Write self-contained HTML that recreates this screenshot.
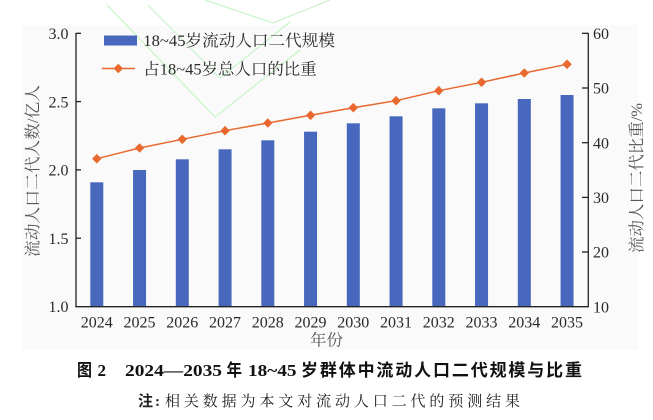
<!DOCTYPE html>
<html>
<head>
<meta charset="utf-8">
<style>
html,body{margin:0;padding:0;background:#fff;}
body{width:653px;height:420px;overflow:hidden;}
svg{display:block;}
.t{font-family:"Liberation Serif","Noto Serif CJK SC",serif;fill:#2a2a2a;font-size:16px;}
.ax{font-family:"Liberation Serif","Noto Serif CJK SC",serif;fill:#555;font-size:16px;}
.cap{font-family:"Liberation Serif","Noto Sans CJK SC",sans-serif;font-weight:bold;fill:#111;font-size:17px;}
.note{font-family:"Liberation Serif","Noto Serif CJK SC",serif;fill:#222;font-size:15px;}
</style>
</head>
<body>
<svg width="653" height="420" viewBox="0 0 653 420" xmlns="http://www.w3.org/2000/svg">
  <rect x="22" y="25" width="616" height="325" fill="#fafafa"/>
  <!-- watermark -->
  <g fill="none" stroke="#c9f3c9" stroke-width="1.2">
    <polyline points="107,5 215,117 300,50"/>
    <polyline points="148,5 220,78 290,22"/>
    <polyline points="205,0 273,23 330,0"/>
  </g>

  <!-- bars -->
  <g fill="#4868bd">
    <rect x="90.3" y="182.3" width="13" height="124.3"/>
    <rect x="133.05" y="170" width="13" height="136.6"/>
    <rect x="175.8" y="159.3" width="13" height="147.3"/>
    <rect x="218.55" y="149.3" width="13" height="157.3"/>
    <rect x="261.3" y="140.3" width="13" height="166.3"/>
    <rect x="304.05" y="131.7" width="13" height="174.9"/>
    <rect x="346.8" y="123.3" width="13" height="183.3"/>
    <rect x="389.55" y="116.3" width="13" height="190.3"/>
    <rect x="432.3" y="108.3" width="13" height="198.3"/>
    <rect x="475.05" y="103.3" width="13" height="203.3"/>
    <rect x="517.8" y="99" width="13" height="207.6"/>
    <rect x="560.55" y="95" width="13" height="211.6"/>
  </g>

  <!-- line -->
  <polyline fill="none" stroke="#e8682e" stroke-width="1.5"
    points="96.8,158.7 139.55,148 182.3,139.3 225.05,130.7 267.8,123 310.55,115.3 353.3,107.7 396.05,100.7 438.8,90.7 481.55,82.3 524.3,73 567.05,64.3"/>
  <g fill="#e8682e">
    <polygon points="96.8,153.9 101.5,158.7 96.8,163.5 92.1,158.7"/>
    <polygon points="139.55,143.2 144.25,148 139.55,152.8 134.85,148"/>
    <polygon points="182.3,134.5 187,139.3 182.3,144.1 177.6,139.3"/>
    <polygon points="225.05,125.9 229.75,130.7 225.05,135.5 220.35,130.7"/>
    <polygon points="267.8,118.2 272.5,123 267.8,127.8 263.1,123"/>
    <polygon points="310.55,110.5 315.25,115.3 310.55,120.1 305.85,115.3"/>
    <polygon points="353.3,102.9 358,107.7 353.3,112.5 348.6,107.7"/>
    <polygon points="396.05,95.9 400.75,100.7 396.05,105.5 391.35,100.7"/>
    <polygon points="438.8,85.9 443.5,90.7 438.8,95.5 434.1,90.7"/>
    <polygon points="481.55,77.5 486.25,82.3 481.55,87.1 476.85,82.3"/>
    <polygon points="524.3,68.2 529,73 524.3,77.8 519.6,73"/>
    <polygon points="567.05,59.5 571.75,64.3 567.05,69.1 562.35,64.3"/>
  </g>

  <!-- axes -->
  <g stroke="#222" stroke-width="1.3" fill="none">
    <line x1="76" y1="33" x2="76" y2="307"/>
    <line x1="588.3" y1="33" x2="588.3" y2="307"/>
    <line x1="75.4" y1="306.7" x2="588.9" y2="306.7"/>
    <line x1="76" y1="33.3" x2="81" y2="33.3"/>
    <line x1="76" y1="101.6" x2="81" y2="101.6"/>
    <line x1="76" y1="169.9" x2="81" y2="169.9"/>
    <line x1="76" y1="238.2" x2="81" y2="238.2"/>
    <line x1="582" y1="33.3" x2="588.3" y2="33.3"/>
    <line x1="582" y1="88" x2="588.3" y2="88"/>
    <line x1="582" y1="142.7" x2="588.3" y2="142.7"/>
    <line x1="582" y1="197.4" x2="588.3" y2="197.4"/>
    <line x1="582" y1="252" x2="588.3" y2="252"/>
  </g>

  <!-- left tick labels -->
  <g class="t" text-anchor="end">
    <text x="68.5" y="39">3.0</text>
    <text x="68.5" y="107.3">2.5</text>
    <text x="68.5" y="175.6">2.0</text>
    <text x="68.5" y="243.9">1.5</text>
    <text x="68.5" y="312.2">1.0</text>
  </g>
  <!-- right tick labels -->
  <g class="t">
    <text x="593" y="39">60</text>
    <text x="593" y="93.7">50</text>
    <text x="593" y="148.4">40</text>
    <text x="593" y="203.1">30</text>
    <text x="593" y="257.7">20</text>
    <text x="593" y="312.4">10</text>
  </g>
  <!-- x labels -->
  <g class="t" text-anchor="middle">
    <text x="96.8" y="327.5">2024</text>
    <text x="139.55" y="327.5">2025</text>
    <text x="182.3" y="327.5">2026</text>
    <text x="225.05" y="327.5">2027</text>
    <text x="267.8" y="327.5">2028</text>
    <text x="310.55" y="327.5">2029</text>
    <text x="353.3" y="327.5">2030</text>
    <text x="396.05" y="327.5">2031</text>
    <text x="438.8" y="327.5">2032</text>
    <text x="481.55" y="327.5">2033</text>
    <text x="524.3" y="327.5">2034</text>
    <text x="567.05" y="327.5">2035</text>
  </g>
  <text class="ax" x="310" y="345.5" textLength="33" lengthAdjust="spacingAndGlyphs">年份</text>

  <!-- axis titles -->
  <text class="ax" transform="translate(38,171) rotate(-90)" text-anchor="middle" textLength="172" lengthAdjust="spacingAndGlyphs">流动人口二代人数/亿人</text>
  <text class="ax" transform="translate(642,178) rotate(-90)" text-anchor="middle" textLength="150" lengthAdjust="spacingAndGlyphs">流动人口二代比重/%</text>

  <!-- legend -->
  <rect x="104" y="35.5" width="33" height="10" fill="#4868bd"/>
  <text class="t" x="143.3" y="46" textLength="191.7" lengthAdjust="spacingAndGlyphs">18~45岁流动人口二代规模</text>
  <line x1="101.7" y1="68.5" x2="135" y2="68.5" stroke="#e8682e" stroke-width="1.5"/>
  <polygon points="118.3,63.7 123,68.5 118.3,73.3 113.6,68.5" fill="#e8682e"/>
  <text class="t" x="143.3" y="74.5" textLength="173.4" lengthAdjust="spacingAndGlyphs">占18~45岁总人口的比重</text>

  <!-- caption -->
  <g class="cap">
    <text x="77" y="376" textLength="15" lengthAdjust="spacingAndGlyphs">图</text>
    <text x="97.5" y="376">2</text>
    <text x="125" y="376" textLength="97" lengthAdjust="spacingAndGlyphs">2024—2035</text>
    <text x="226.5" y="376" textLength="15.5" lengthAdjust="spacingAndGlyphs">年</text>
    <text x="248" y="376" textLength="48.5" lengthAdjust="spacingAndGlyphs">18~45</text>
    <text x="301" y="376" textLength="281" lengthAdjust="spacing">岁群体中流动人口二代规模与比重</text>
  </g>
  <!-- note -->
  <text class="note" x="138" y="406" font-weight="bold" textLength="15" lengthAdjust="spacingAndGlyphs" style="font-family:'Noto Sans CJK SC',sans-serif;">注</text>
  <text class="note" x="155" y="406" font-weight="bold">:</text>
  <text class="note" x="165" y="406" textLength="355" lengthAdjust="spacing">相关数据为本文对流动人口二代的预测结果</text>
</svg>
</body>
</html>
